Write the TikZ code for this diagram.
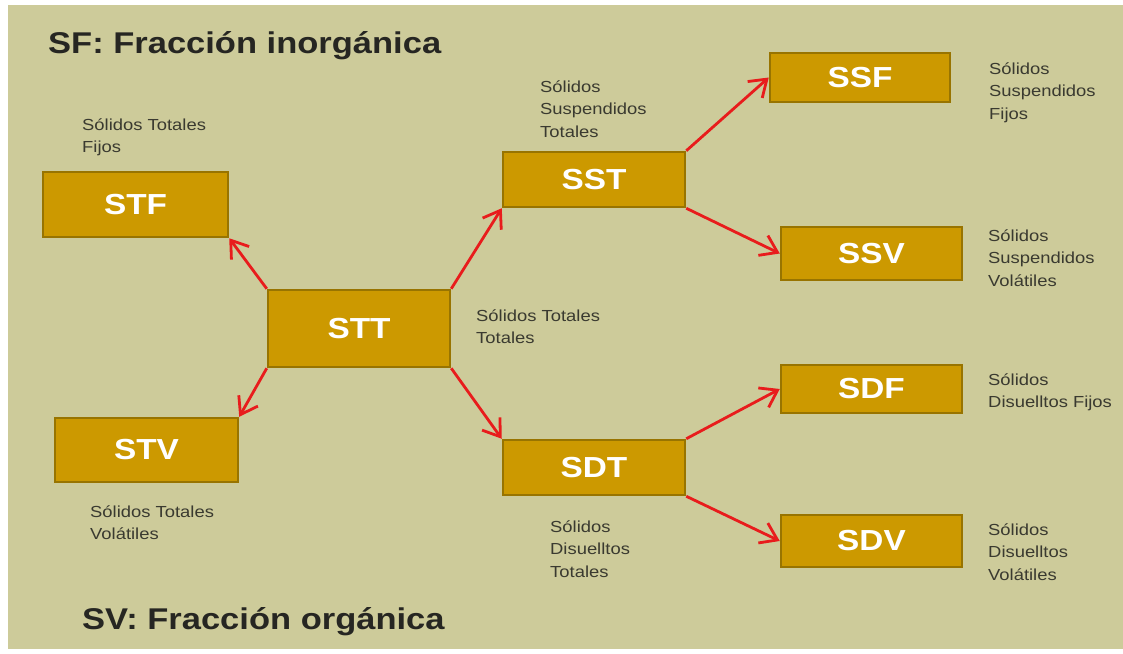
\documentclass[tikz,border=0pt]{standalone}
\usepackage{fontspec}
\setmainfont{Liberation Sans}[FakeStretch=1.15]
\usetikzlibrary{arrows.meta}
\definecolor{bgbeige}{RGB}{205,203,154}
\definecolor{boxgold}{RGB}{204,153,0}
\definecolor{boxedge}{RGB}{152,116,0}
\definecolor{arrowred}{RGB}{232,28,28}
\definecolor{notegray}{RGB}{58,58,48}
\definecolor{titlegray}{RGB}{38,38,34}
\begin{document}
\begin{tikzpicture}[x=1pt, y=-1pt,
    box/.style={draw=boxedge, fill=boxgold, line width=2.5pt, inner sep=0pt, text=white, font=\bfseries\fontsize{29}{30}\selectfont},
    note/.style={anchor=base west, align=left, inner sep=0pt, text=notegray, font=\fontsize{16}{22.5}\selectfont},
    title/.style={anchor=base west, inner sep=0pt, text=titlegray, font=\bfseries\fontsize{30}{32}\selectfont},
    arrow/.style={draw=arrowred, line width=2.8pt, -{Straight Barb[length=16pt, width=22pt]}}]
    \useasboundingbox (0,0) rectangle (1123,653);
    \fill[white] (0,0) rectangle (1123,653);
    \fill[bgbeige] (8,5) rectangle (1123,649);
    % titles
    \node[title] (sf) at (48,53) {SF: Fracción inorgánica};
    \node[title] (sv) at (82,629) {SV: Fracción orgánica};
    % boxes
    \node[box, minimum width=182pt, minimum height=77pt] (stt) at (359,328.5) {STT};
    \node[box, minimum width=185pt, minimum height=65pt] (stf) at (135.5,204.5) {STF};
    \node[box, minimum width=183pt, minimum height=64pt] (stv) at (146.5,450) {STV};
    \node[box, minimum width=182pt, minimum height=55pt] (sst) at (594,179.5) {SST};
    \node[box, minimum width=182pt, minimum height=55pt] (sdt) at (594,467.5) {SDT};
    \node[box, minimum width=180pt, minimum height=49pt] (ssf) at (860,77.5) {SSF};
    \node[box, minimum width=181pt, minimum height=53pt] (ssv) at (871.5,253.5) {SSV};
    \node[box, minimum width=181pt, minimum height=48pt] (sdf) at (871.5,389) {SDF};
    \node[box, minimum width=181pt, minimum height=52pt] (sdv) at (871.5,541) {SDV};
    % notes (placed at the baseline of their last line)
    \node[note] (stflabel) at (82,152.5) {Sólidos Totales\\Fijos};
    \node[note] (sttlabel) at (476,343.5) {Sólidos Totales\\Totales};
    \node[note] (stvlabel) at (90,539.5) {Sólidos Totales\\Volátiles};
    \node[note] (sstlabel) at (540,137) {Sólidos\\Suspendidos\\Totales};
    \node[note] (sdtlabel) at (550,577) {Sólidos\\Disuelltos\\Totales};
    \node[note] (ssflabel) at (989,119) {Sólidos\\Suspendidos\\Fijos};
    \node[note] (ssvlabel) at (988,286) {Sólidos\\Suspendidos\\Volátiles};
    \node[note] (sdflabel) at (988,407.5) {Sólidos\\Disuelltos Fijos};
    \node[note] (sdvlabel) at (988,580) {Sólidos\\Disuelltos\\Volátiles};
    % arrows
    \draw[arrow] (stt.north west) -- (stf.south east);
    \draw[arrow] (stt.south west) -- (stv.north east);
    \draw[arrow] (stt.north east) -- (sst.south west);
    \draw[arrow] (stt.south east) -- (sdt.north west);
    \draw[arrow] (sst.north east) -- (ssf.west);
    \draw[arrow] (sst.south east) -- (ssv.west);
    \draw[arrow] (sdt.north east) -- (sdf.west);
    \draw[arrow] (sdt.south east) -- (sdv.west);
\end{tikzpicture}
\end{document}
